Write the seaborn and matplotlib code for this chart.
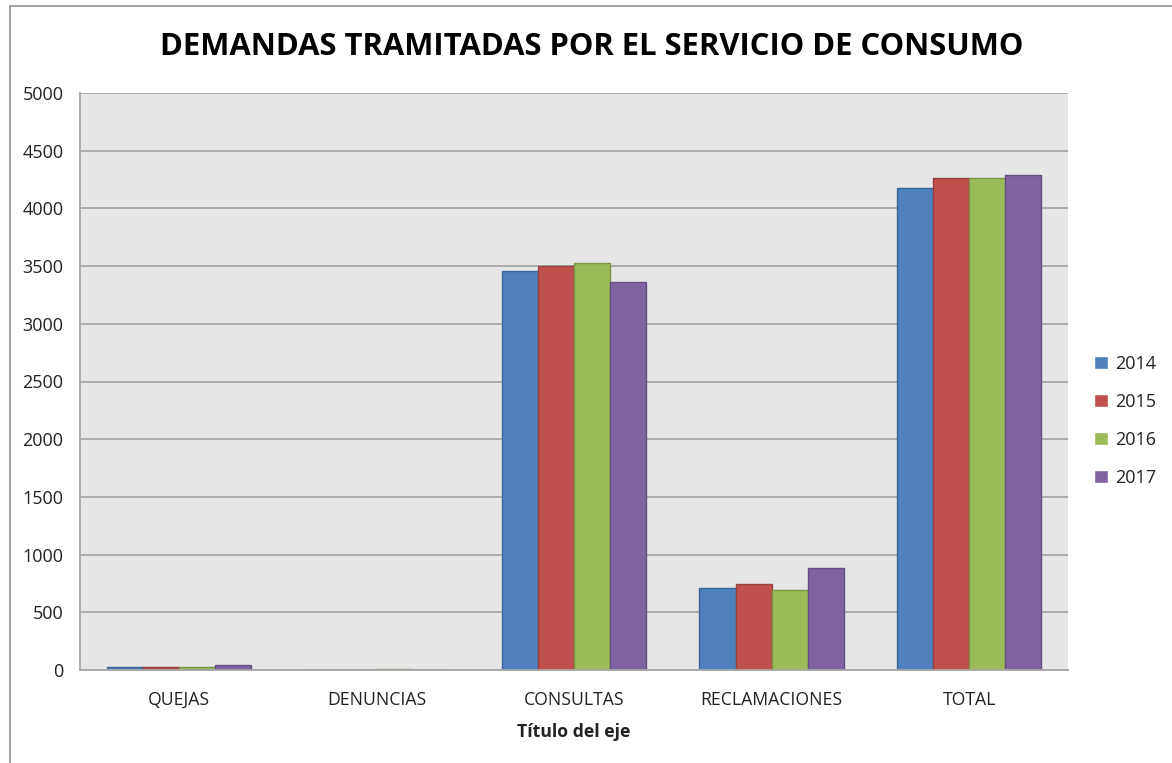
import matplotlib
matplotlib.use("Agg")
import matplotlib.pyplot as plt
import seaborn as sns
import pandas as pd
from matplotlib.patches import Rectangle

categories = ["QUEJAS", "DENUNCIAS", "CONSULTAS", "RECLAMACIONES", "TOTAL"]
years = ["2014", "2015", "2016", "2017"]
v2014 = [22, 0, 3457, 713, 4180]
v2015 = [24, 0, 3500, 743, 4261]
v2016 = [22, 6, 3530, 696, 4261]
v2017 = [40, 0, 3360, 887, 4287]

colors = ["#4F81BD", "#C0504D", "#9BBB59", "#8064A2"]
edges = ["#3A6596", "#98403D", "#7A9446", "#654F82"]

rows = []
for y, vals in zip(years, [v2014, v2015, v2016, v2017]):
    for c, v in zip(categories, vals):
        rows.append({"cat": c, "year": y, "value": v})
df = pd.DataFrame(rows)

sns.set_theme(style="white")
plt.rcParams["font.family"] = ["Open Sans", "DejaVu Sans"]

fig = plt.figure(figsize=(11.72, 7.63), dpi=100)
W, H = 1172, 763
ax = fig.add_axes([80 / W, 1 - 670 / H, (1068 - 80) / W, (670 - 93) / H])
ax.set_facecolor("#E6E6E6")

sns.barplot(data=df, x="cat", y="value", hue="year", order=categories,
            hue_order=years, palette=colors, width=0.73, gap=0,
            saturation=1, ax=ax, legend=True, linewidth=1)
for cont, ec in zip(ax.containers, edges):
    for p in cont:
        p.set_edgecolor(ec)

ax.set_ylim(0, 5000)
ax.set_yticks(range(0, 5001, 500))
ax.yaxis.grid(True, color="#A6A6A6", linewidth=1.3)
ax.set_axisbelow(True)
for s in ["top", "right"]:
    ax.spines[s].set_visible(False)
ax.spines["left"].set_color("#A6A6A6")
ax.spines["left"].set_linewidth(1.3)
ax.spines["bottom"].set_color("#A6A6A6")
ax.spines["bottom"].set_linewidth(1.3)
ax.tick_params(axis="y", length=7, width=1.3, color="#A6A6A6", labelsize=13, pad=5, labelcolor="#222222")
ax.tick_params(axis="x", length=0, labelsize=12.7, pad=15, labelcolor="#222222")
ax.set_ylabel("")
ax.set_xlabel("Título del eje", fontsize=12.7, fontweight="bold", labelpad=10, color="#222222")

leg = ax.legend(loc="center left", bbox_to_anchor=(1.01, 0.432), frameon=False,
                fontsize=13, handlelength=0.75, handleheight=0.75, handletextpad=0.4,
                labelspacing=1.1)
for t in leg.get_texts():
    t.set_color("#222222")

fig.text(592 / W, 1 - 47 / H, "DEMANDAS TRAMITADAS POR EL SERVICIO DE CONSUMO",
         ha="center", va="center", fontsize=22.3, fontweight="bold", color="black")

fig.patches.append(Rectangle((10 / W, -0.1), 1.2, 1 - 6 / H + 0.1, transform=fig.transFigure,
                             fill=False, edgecolor="#999999", linewidth=1.3))

fig.savefig("out.png", dpi=100, facecolor="white")
